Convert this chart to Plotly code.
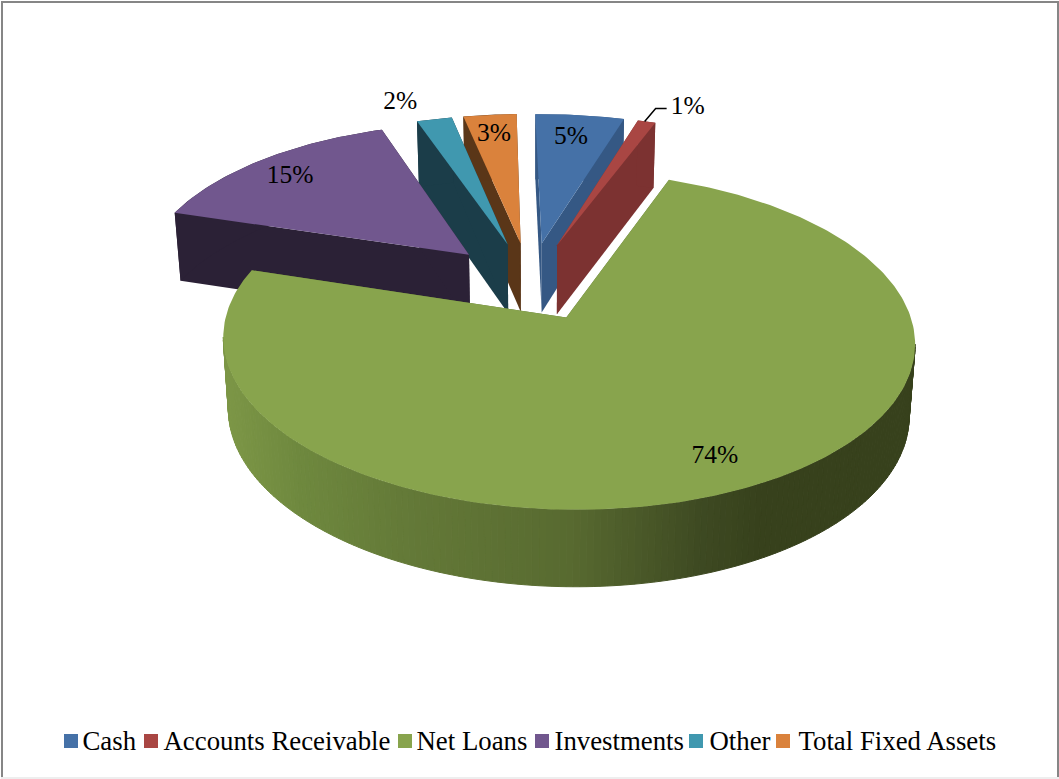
import numpy as np
import plotly.graph_objects as go

# Balance-sheet composition
categories = ["Cash", "Accounts Receivable", "Net Loans", "Investments", "Other", "Total Fixed Assets"]
shares = [5, 1, 74, 15, 2, 3]

# Slice colours: top face and darker cut wall
top_colors = ["#4571A7", "#A94643", "#88A44D", "#71578E", "#4098AF", "#DA823C"]
wall_colors = ["#355884", "#7C3231", "#5E7435", "#2B2136", "#1B3D49", "#5A3618"]

# Screen x -> colour ramp along the rim of the large slice
RIM_RAMP_X = [225, 300, 400, 570, 700, 760, 915]
RIM_RAMP_RGB = [(124, 150, 70), (110, 136, 62), (100, 122, 56), (88, 106, 48), (62, 74, 34), (55, 65, 28), (55, 65, 28)]

# Camera: plane of the pie's top face -> page pixels
CAMERA = np.array([[330.18642, -64.96067, 530.02834],
                   [-3.19358, 118.54493, 282.69815],
                   [-0.0038564, -0.13377520, 1.0]])
PULL = [0.2617, 0.2617, 0.2395, 0.2617, 0.2617, 0.2617]
VANISH_X = 540
FLOOR_SCALE = 0.984


def project(x, y):
    p = CAMERA @ np.vstack([x, y, np.ones_like(x)])
    return p[0] / p[2], p[1] / p[2]


def floor(u, v):
    # Lower face of the disc: slightly narrower, thicker towards the viewer
    return VANISH_X + (np.asarray(u) - VANISH_X) * FLOOR_SCALE, np.asarray(v) + 68 + (np.asarray(v) - 211) * 0.03


edges = np.concatenate([[0], np.cumsum(shares)]) / np.sum(shares) * 2 * np.pi
mids = (edges[:-1] + edges[1:]) / 2


def slice_point(i, angle, radius=1.0):
    x = PULL[i] * np.sin(mids[i]) + radius * np.sin(angle)
    y = -PULL[i] * np.cos(mids[i]) - radius * np.cos(angle)
    return project(np.atleast_1d(x), np.atleast_1d(y))


def poly(xs, ys, color, line=0.0):
    return go.Scatter(x=list(xs) + [xs[0]], y=list(ys) + [ys[0]], mode="lines", fill="toself",
                      fillcolor=color, line=dict(color=color, width=line),
                      hoverinfo="skip", showlegend=False)


def ramp_color(u):
    c = [np.interp(u, RIM_RAMP_X, [s[k] for s in RIM_RAMP_RGB]) for k in range(3)]
    return "rgb(%d,%d,%d)" % tuple(int(round(v)) for v in c)


fig = go.Figure()

# Painter's order, from the far slices to the near one
for i in [5, 4, 3, 0, 1, 2]:
    arc = np.linspace(edges[i], edges[i + 1], max(int(np.degrees(edges[i + 1] - edges[i])), 6) + 1)
    ru, rv = slice_point(i, arc)
    tu, tv = slice_point(i, 0.0, 0.0)
    fu, fv = floor(ru, rv)
    ftu, ftv = floor(tu, tv)
    # Cut walls along both radial edges
    fig.add_trace(poly([tu[0], ru[0], fu[0], ftu[0]], [tv[0], rv[0], fv[0], ftv[0]], wall_colors[i]))
    fig.add_trace(poly([tu[0], ru[-1], fu[-1], ftu[0]], [tv[0], rv[-1], fv[-1], ftv[0]], wall_colors[i]))
    # Outer wall; on the large slice only the viewer-facing stretch, shaded strip by strip
    if i == 2:
        for k in range(int(np.argmax(ru)), int(np.argmin(ru))):
            col = ramp_color((ru[k] + ru[k + 1]) / 2)
            fig.add_trace(poly([ru[k], ru[k + 1], fu[k + 1], fu[k]], [rv[k], rv[k + 1], fv[k + 1], fv[k]], col, 1.0))
    else:
        fig.add_trace(poly(list(ru) + list(fu[::-1]), list(rv) + list(fv[::-1]), wall_colors[i]))
    # Top face
    fig.add_trace(poly([tu[0]] + list(ru), [tv[0]] + list(rv), top_colors[i]))

# Percentage labels: radius along each slice's middle, plus a nudge in pixels
LABEL_RADIUS = [0.83, 1.0, 0.8, 0.85, 1.0, 0.85]
LABEL_NUDGE = [(-3, 3), (-2, 0), (10, 6), (0, 3), (-34, -17), (0, 2)]
LABEL_FONT = dict(family="Liberation Serif", size=25.5, color="black")
for i, share in enumerate(shares):
    u, v = slice_point(i, mids[i], LABEL_RADIUS[i])
    dx, dy = LABEL_NUDGE[i]
    if i == 1:
        # Small slice: leader line out to a label on its right
        lx = [u[0] + dx, u[0] + dx + 11, u[0] + dx + 22]
        ly = [v[0], v[0] - 13, v[0] - 13]
        fig.add_trace(go.Scatter(x=lx, y=ly, mode="lines", line=dict(color="black", width=1.5),
                                 hoverinfo="skip", showlegend=False))
        fig.add_trace(go.Scatter(x=[lx[-1] + 4], y=[ly[-1] - 1], mode="text", text=[f"{share}%"],
                                 textposition="middle right", textfont=LABEL_FONT,
                                 hoverinfo="skip", showlegend=False))
    else:
        fig.add_trace(go.Scatter(x=[u[0] + dx], y=[v[0] + dy], mode="text", text=[f"{share}%"],
                                 textposition="middle center", textfont=LABEL_FONT,
                                 hoverinfo="skip", showlegend=False))

# Legend row along the bottom
SWATCH_X = [71, 151, 405, 542, 696, 783]
LEGEND_TEXT_X = [82.5, 163.5, 416.5, 554.5, 709.5, 798.5]
LEGEND_Y = 741
for name, color, sx, tx in zip(categories, top_colors, SWATCH_X, LEGEND_TEXT_X):
    fig.add_trace(go.Scatter(x=[sx], y=[LEGEND_Y], mode="markers",
                             marker=dict(symbol="square", size=14, color=color, line=dict(width=0)),
                             hoverinfo="skip", showlegend=False))
    fig.add_trace(go.Scatter(x=[tx], y=[LEGEND_Y + 2], mode="text", text=[name],
                             textposition="middle right",
                             textfont=dict(family="Liberation Serif", size=26.8, color="black"),
                             hoverinfo="skip", showlegend=False))

# Chart frame
frame = dict(color="#868686", width=2)
shapes = [
    dict(type="line", x0=2, x1=2, y0=1, y1=779, line=frame),
    dict(type="line", x0=1, x1=1059, y0=2, y1=2, line=frame),
    dict(type="line", x0=1058, x1=1058, y0=1, y1=779, line=frame),
    dict(type="line", x0=1, x1=1059, y0=778, y1=778, line=dict(color="#EEEEEE", width=2)),
]

fig.update_layout(
    width=1059, height=779, autosize=False,
    margin=dict(l=0, r=0, t=0, b=0),
    paper_bgcolor="white", plot_bgcolor="white",
    showlegend=False, shapes=shapes,
    xaxis=dict(range=[0, 1059], visible=False, fixedrange=True),
    yaxis=dict(range=[779, 0], visible=False, fixedrange=True),
)
fig.write_html("out.html", config=dict(displayModeBar=False))
